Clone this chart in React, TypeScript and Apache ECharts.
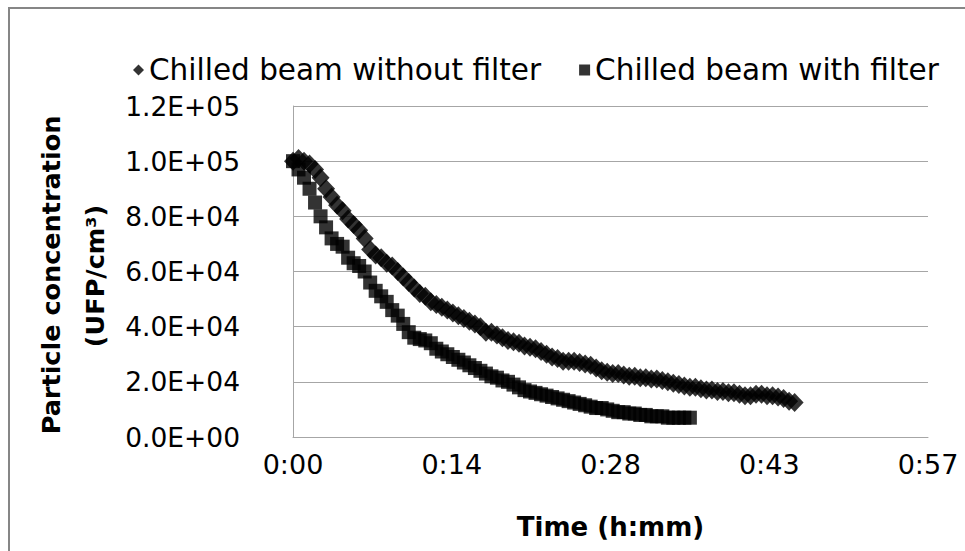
import React, { useEffect, useRef } from "react";
import * as echarts from "echarts";

// Time in minutes, concentration in UFP/cm3
const timeWithout = [
  0, 0.5, 1, 1.5, 2, 2.5, 3, 3.5, 4, 4.5, 5, 5.5, 6, 6.5, 7, 7.5, 8, 8.5, 9, 9.5,
  10, 10.5, 11, 11.5, 12, 12.5, 13, 13.5, 14, 14.5, 15, 15.5, 16, 16.5, 17, 17.5, 18, 18.5, 19, 19.5,
  20, 20.5, 21, 21.5, 22, 22.5, 23, 23.5, 24, 24.5, 25, 25.5, 26, 26.5, 27, 27.5, 28, 28.5, 29, 29.5,
  30, 30.5, 31, 31.5, 32, 32.5, 33, 33.5, 34, 34.5, 35, 35.5, 36, 36.5, 37, 37.5, 38, 38.5, 39, 39.5,
  40, 40.5, 41, 41.5, 42, 42.5, 43, 43.5, 44, 44.5, 45, 45.5,
];
const valuesWithout = [
  100000, 101000, 100000, 99000, 97000, 94000, 90000, 87000, 84000, 82000, 79000, 77000, 75000, 72000, 68000, 66000, 65000, 63000, 62000, 60000,
  58000, 56000, 54000, 52000, 51000, 49000, 48000, 47000, 46000, 45000, 44000, 43000, 42000, 41000, 40000, 38000, 38000, 37000, 36000, 35000,
  34500, 34000, 33000, 32500, 32000, 31000, 30000, 29000, 28500, 27500, 27500, 27500, 27000, 26500, 26000, 25000, 24000, 23500, 23000, 23000,
  22500, 22000, 22000, 21500, 21500, 21000, 21000, 20500, 20000, 19500, 19000, 18500, 18000, 18000, 17500, 17000, 17000, 16500, 16500, 16000,
  16000, 15500, 15000, 15000, 15500, 15500, 15000, 15000, 14500, 14000, 13000, 12500,
];

const timeWith = [
  0, 0.5, 1, 1.5, 2, 2.5, 3, 3.5, 4, 4.5, 5, 5.5, 6, 6.5, 7, 7.5, 8, 8.5, 9, 9.5,
  10, 10.5, 11, 11.5, 12, 12.5, 13, 13.5, 14, 14.5, 15, 15.5, 16, 16.5, 17, 17.5, 18, 18.5, 19, 19.5,
  20, 20.5, 21, 21.5, 22, 22.5, 23, 23.5, 24, 24.5, 25, 25.5, 26, 26.5, 27, 27.5, 28, 28.5, 29, 29.5,
  30, 30.5, 31, 31.5, 32, 32.5, 33, 33.5, 34, 34.5, 35, 35.5, 36,
];
const valuesWith = [
  100000, 97000, 94000, 90000, 85000, 80000, 76000, 72000, 70000, 69000, 65000, 63000, 62000, 60000, 56000, 53000, 51000, 49000, 46000, 44000,
  41000, 38000, 36000, 35500, 35000, 34000, 32000, 31000, 30000, 29000, 28000, 27000, 26000, 25000, 24000, 23000, 22000, 21500, 20500, 20000,
  19000, 18000, 17000, 16500, 16000, 15500, 15000, 14500, 14000, 13500, 13000, 12500, 12000, 11500, 11000, 10500, 10500, 10000, 9500, 9000,
  9000, 8500, 8500, 8000, 8000, 7500, 7500, 7500, 7000, 7000, 7000, 7000, 7000,
];

const seriesNames = ["Chilled beam without filter", "Chilled beam with filter"];
const yTickValues = [0, 20000, 40000, 60000, 80000, 100000, 120000];
const xAxisTitle = "Time (h:mm)";
const yAxisTitleLines = ["Particle concentration", "(UFP/cm³)"];

const FONT = "DejaVu Sans";

function fmtSci(v: number): string {
  if (v === 0) return "0.0E+00";
  const e = Math.floor(Math.log10(Math.abs(v)) + 1e-9);
  const m = v / Math.pow(10, e);
  return `${m.toFixed(1)}E+${String(e).padStart(2, "0")}`;
}

function fmtTime(v: number): string {
  const mins = Math.floor(v + 1e-6);
  const h = Math.floor(mins / 60);
  return `${h}:${String(mins % 60).padStart(2, "0")}`;
}

export default function App() {
  const ref = useRef<HTMLDivElement>(null);
  useEffect(() => {
    if (!ref.current) return;
    const chart = echarts.init(ref.current, undefined, { renderer: "svg" });
    const plotLeft = 293;
    const plotTop = 106;
    const plotRight = 928;
    const plotBottom = 437;
    chart.setOption({
      animation: false,
      backgroundColor: "#ffffff",
      grid: {
        left: plotLeft,
        top: plotTop,
        right: 965 - plotRight,
        bottom: 551 - plotBottom,
        containLabel: false,
      },
      legend: {
        left: 128,
        top: 50,
        itemGap: 38,
        itemWidth: 11,
        itemHeight: 11,
        textStyle: { fontFamily: FONT, fontSize: 29.5, color: "#000" },
        data: [
          { name: seriesNames[0], icon: "diamond", itemStyle: { color: "#000" } },
          { name: seriesNames[1], icon: "rect", itemStyle: { color: "#000" } },
        ],
      },
      xAxis: {
        type: "value",
        min: 0,
        max: 57.6,
        interval: 14.4,
        axisLine: { show: true, lineStyle: { color: "#a6a6a6", width: 1 } },
        axisTick: { show: false },
        splitLine: { show: false },
        axisLabel: {
          formatter: (v: number) => fmtTime(v),
          fontFamily: FONT,
          fontSize: 27,
          color: "#000",
          margin: 14,
          showMaxLabel: true,
          showMinLabel: true,
        },
      },
      yAxis: {
        type: "value",
        min: yTickValues[0],
        max: yTickValues[yTickValues.length - 1],
        interval: 20000,
        axisLine: { show: true, lineStyle: { color: "#a6a6a6", width: 1 } },
        axisTick: { show: false },
        splitLine: { show: true, lineStyle: { color: "#a6a6a6", width: 1 } },
        axisLabel: {
          formatter: (v: number) => fmtSci(v),
          fontFamily: FONT,
          fontSize: 26.5,
          color: "#000",
          margin: 53,
          align: "right",
        },
      },
      series: [
        {
          name: seriesNames[0],
          type: "scatter",
          symbol: "diamond",
          symbolSize: [18, 19],
          itemStyle: { color: "#000" },
          data: timeWithout.map((t, i) => [t, valuesWithout[i]]),
        },
        {
          name: seriesNames[1],
          type: "scatter",
          symbol: "rect",
          symbolSize: 14,
          itemStyle: { color: "#000" },
          data: timeWith.map((t, i) => [t, valuesWith[i]]),
        },
      ],
      graphic: [
        {
          type: "rect",
          shape: { x: 9, y: 8, width: 1000, height: 600 },
          style: { fill: "none", stroke: "#868686", lineWidth: 2 },
          silent: true,
        },
        {
          type: "text",
          x: (plotLeft + plotRight) / 2,
          y: 527,
          style: {
            text: xAxisTitle,
            fontFamily: FONT,
            fontSize: 26,
            fontWeight: "bold",
            fill: "#000",
            textAlign: "center",
            textVerticalAlign: "middle",
          },
        },
        {
          type: "text",
          x: 51,
          y: 275,
          rotation: Math.PI / 2,
          style: {
            text: yAxisTitleLines[0],
            fontFamily: FONT,
            fontSize: 25.5,
            fontWeight: "bold",
            fill: "#000",
            textAlign: "center",
            textVerticalAlign: "middle",
          },
        },
        {
          type: "text",
          x: 95,
          y: 276,
          rotation: Math.PI / 2,
          style: {
            text: yAxisTitleLines[1],
            fontFamily: FONT,
            fontSize: 25.5,
            fontWeight: "bold",
            fill: "#000",
            textAlign: "center",
            textVerticalAlign: "middle",
          },
        },
      ],
    });
    return () => chart.dispose();
  }, []);
  return (
    <div
      ref={ref}
      style={{ position: "absolute", left: 0, top: 0, width: 965, height: 551 }}
    />
  );
}
